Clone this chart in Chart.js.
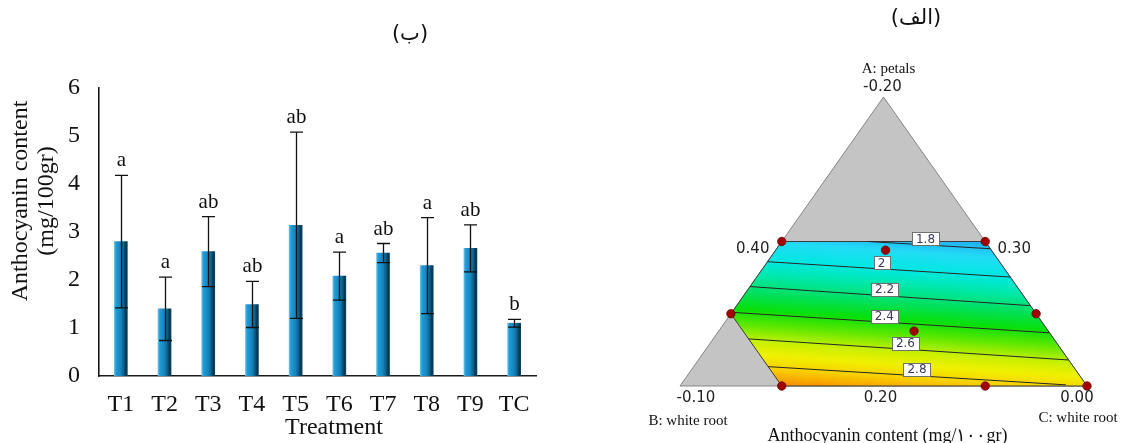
<!DOCTYPE html>
<html>
<head>
<meta charset="utf-8">
<script src="https://cdn.jsdelivr.net/npm/chart.js@4/dist/chart.umd.min.js"></script>
<style>
  html, body { margin: 0; padding: 0; background: #fff; }
  body { width: 1122px; height: 443px; position: relative; overflow: hidden; }
  canvas { position: absolute; top: 0; }
  #bars { left: 0; }
  #mix { left: 600px; }
</style>
</head>
<body>
<canvas id="bars" width="600" height="443"></canvas>
<canvas id="mix" width="522" height="443"></canvas>
<script>
// ---------- Panel (ب): anthocyanin content by treatment ----------
const treatments   = ['T1', 'T2', 'T3', 'T4', 'T5', 'T6', 'T7', 'T8', 'T9', 'TC'];
const anthocyanin  = [2.80, 1.40, 2.59, 1.49, 3.14, 2.08, 2.56, 2.30, 2.66, 1.10];
const stdError     = [1.38, 0.66, 0.73, 0.48, 1.94, 0.50, 0.20, 1.00, 0.49, 0.08];
const groupLetters = ['a', 'a', 'ab', 'ab', 'ab', 'a', 'ab', 'a', 'ab', 'b'];
const yTickValues  = [0, 1, 2, 3, 4, 5, 6];
const yTitleLines  = ['Anthocyanin content', '(mg/100gr)'];
const xTitle       = 'Treatment';
const panelTitles  = ['(ب)', '(الف)'];

// ---------- Panel (الف): mixture (ternary) response surface ----------
// mixture points are written as [A: petals, B: white root, C: white root]
const vertexNames    = ['A: petals', 'B: white root', 'C: white root'];
const vertexTicks    = ['-0.20', '-0.10', '0.00'];
const edgeTicks      = ['0.40', '0.30', '0.20'];
const mixTitle       = 'Anthocyanin content (mg/۱۰۰gr)';
const regionVertices = [[0.5, 0.5, 0], [0.5, 0, 0.5], [0, 0, 1], [0, 0.75, 0.25], [0.25, 0.75, 0]];
const designPoints   = [[0.5, 0.5, 0], [0.5, 0, 0.5], [0.47, 0.26, 0.27], [0.25, 0.75, 0], [0.25, 0, 0.75],
                        [0.19, 0.33, 0.48], [0, 0.75, 0.25], [0, 0.25, 0.75], [0, 0, 1]];
const contourLevels  = [1.8, 2.0, 2.2, 2.4, 2.6, 2.8];
const contourStart   = [[0.5, 0.288, 0.212], [0.43, 0.57, 0], [0.344, 0.656, 0], [0.255, 0.745, 0], [0.163, 0.75, 0.087], [0.067, 0.75, 0.183]];
const contourEnd     = [[0.475, 0, 0.525], [0.377, 0, 0.623], [0.278, 0, 0.722], [0.184, 0, 0.816], [0.09, 0, 0.91], [0.004, 0.05, 0.946]];
const colorScale     = [[1.70, '#1fa4f0'], [1.78, '#22bcf4'], [1.86, '#22dcf6'], [2.00, '#00e8e0'], [2.12, '#00e8a8'],
                        [2.25, '#00e060'], [2.38, '#08e008'], [2.50, '#60e800'], [2.62, '#c8f000'], [2.72, '#f0f000'],
                        [2.82, '#f8d000'], [2.90, '#f8a400'], [2.98, '#f07400']];

const SERIF = '"Liberation Serif", "Times New Roman", serif';
const SANS  = '"DejaVu Sans", "Liberation Sans", sans-serif';
const BAR_W = 13;

// cylinder-like shading across each bar
function barFill(context) {
  const chart = context.chart;
  const xs = chart.scales && chart.scales.x;
  if (!xs || context.dataIndex === undefined || !chart.chartArea) return '#1683bd';
  const cx = xs.getPixelForValue(context.dataIndex);
  if (!Number.isFinite(cx)) return '#1683bd';
  const g = chart.ctx.createLinearGradient(cx - BAR_W / 2, 0, cx + BAR_W / 2, 0);
  g.addColorStop(0.00, '#62bde6');
  g.addColorStop(0.14, '#1e9bd6');
  g.addColorStop(0.50, '#1683bd');
  g.addColorStop(0.72, '#0f5f8a');
  g.addColorStop(0.90, '#06334d');
  g.addColorStop(1.00, '#0d4866');
  return g;
}

const barDecor = {
  id: 'barDecor',
  afterDatasetsDraw(chart) {
    const { ctx, scales: { x, y } } = chart;
    ctx.save();
    ctx.strokeStyle = '#111';
    ctx.lineWidth = 1.3;
    ctx.fillStyle = '#111';
    ctx.font = '21px ' + SERIF;
    ctx.textAlign = 'center';
    ctx.textBaseline = 'alphabetic';
    anthocyanin.forEach((v, i) => {
      const cx = Math.round(x.getPixelForValue(i)) + 0.5;
      const top = y.getPixelForValue(v + stdError[i]);
      const bot = y.getPixelForValue(v - stdError[i]);
      ctx.beginPath();
      ctx.moveTo(cx, top); ctx.lineTo(cx, bot);
      ctx.moveTo(cx - 6.5, top); ctx.lineTo(cx + 6.5, top);
      ctx.moveTo(cx - 6.5, bot); ctx.lineTo(cx + 6.5, bot);
      ctx.stroke();
      ctx.fillText(groupLetters[i], cx, top - 9);
    });
    ctx.restore();
  },
  afterDraw(chart) {
    const { ctx } = chart;
    ctx.save();
    ctx.fillStyle = '#111';
    ctx.font = '24px ' + SERIF;
    ctx.textAlign = 'center';
    ctx.textBaseline = 'middle';
    // rotated y title, two lines
    [21, 47].forEach((xPos, k) => {
      ctx.save();
      ctx.translate(xPos, 201);
      ctx.rotate(-Math.PI / 2);
      ctx.fillText(yTitleLines[k], 0, 0);
      ctx.restore();
    });
    ctx.fillText(xTitle, 334, 428);
    ctx.font = '21px ' + SANS;
    ctx.fillText(panelTitles[0], 410, 35);
    ctx.restore();
  }
};

new Chart(document.getElementById('bars'), {
  type: 'bar',
  data: {
    labels: treatments,
    datasets: [{
      data: anthocyanin,
      backgroundColor: barFill,
      borderWidth: 0,
      barThickness: BAR_W
    }]
  },
  options: {
    responsive: false,
    animation: false,
    devicePixelRatio: 1,
    events: [],
    layout: { padding: { left: 0, top: 88, right: 64, bottom: 0 } },
    plugins: { legend: { display: false }, tooltip: { enabled: false } },
    scales: {
      x: {
        grid: { display: false, drawTicks: false },
        border: { display: true, color: '#1a1a1a', width: 1.6 },
        ticks: { color: '#111', font: { family: SERIF, size: 24 }, padding: 14, maxRotation: 0 },
        afterFit(s) { s.height = 67; }
      },
      y: {
        min: 0, max: 6,
        grid: { display: false, drawTicks: false },
        border: { display: true, color: '#1a1a1a', width: 1.6 },
        ticks: { color: '#111', font: { family: SERIF, size: 24 }, padding: 19 },
        afterBuildTicks(s) { s.ticks = yTickValues.map(v => ({ value: v })); },
        afterFit(s) { s.width = 99; }
      }
    }
  },
  plugins: [barDecor]
});

// ---------- ternary helpers ----------
const toPlane = m => ({ x: m[2] + m[0] / 2, y: m[0] });

// linear colour field oriented across the contour lines
function fieldGradient(chart) {
  const { ctx, chartArea, scales } = chart;
  if (!chartArea || !scales || !scales.x || !scales.y) return '#00e000';
  const px = m => { const p = toPlane(m); return { x: scales.x.getPixelForValue(p.x), y: scales.y.getPixelForValue(p.y) }; };
  const lines = contourLevels.map((lv, i) => [px(contourStart[i]), px(contourEnd[i])]);
  const [p, q] = lines[2];
  let dx = q.x - p.x, dy = q.y - p.y;
  const len = Math.hypot(dx, dy);
  if (!Number.isFinite(len) || len === 0) return '#00e000';
  dx /= len; dy /= len;
  const n = { x: -dy, y: dx };
  const s = lines.map(([a, b]) => n.x * (a.x + b.x) / 2 + n.y * (a.y + b.y) / 2);
  // least-squares fit: level = k0 + k1 * s
  const m = s.length;
  const ms = s.reduce((t, v) => t + v, 0) / m;
  const mv = contourLevels.reduce((t, v) => t + v, 0) / m;
  let num = 0, den = 0;
  s.forEach((sv, i) => { num += (sv - ms) * (contourLevels[i] - mv); den += (sv - ms) * (sv - ms); });
  const k1 = num / den, k0 = mv - k1 * ms;
  const ref = { x: (p.x + q.x) / 2, y: (p.y + q.y) / 2 };
  const sRef = n.x * ref.x + n.y * ref.y;
  const at = v => { const sv = (v - k0) / k1; return { x: ref.x + n.x * (sv - sRef), y: ref.y + n.y * (sv - sRef) }; };
  const vLo = colorScale[0][0], vHi = colorScale[colorScale.length - 1][0];
  const a = at(vLo), b = at(vHi);
  if (![a.x, a.y, b.x, b.y].every(Number.isFinite)) return '#00e000';
  const g = ctx.createLinearGradient(a.x, a.y, b.x, b.y);
  colorScale.forEach(([v, c]) => g.addColorStop((v - vLo) / (vHi - vLo), c));
  return g;
}

const mixDecor = {
  id: 'mixDecor',
  afterDatasetsDraw(chart) {
    const { ctx, scales: { x, y } } = chart;
    const px = m => { const p = toPlane(m); return { x: x.getPixelForValue(p.x), y: y.getPixelForValue(p.y) }; };
    ctx.save();
    ctx.font = '12px ' + SANS;
    ctx.textAlign = 'center';
    ctx.textBaseline = 'middle';
    const labelT = [0.47, 0.47, 0.48, 0.48, 0.49, 0.5];
    contourLevels.forEach((lv, i) => {
      const a = px(contourStart[i]), b = px(contourEnd[i]);
      const t = labelT[i];
      const cx = a.x + (b.x - a.x) * t;
      const cy = a.y + (b.y - a.y) * t - 6;
      const txt = String(lv);
      const w = Math.round(ctx.measureText(txt).width + 8);
      const bx = Math.round(cx - w / 2) + 0.5, by = Math.round(cy - 6.5) + 0.5;
      ctx.fillStyle = '#fff';
      ctx.fillRect(bx, by, w, 13);
      ctx.strokeStyle = '#6f6f6f';
      ctx.lineWidth = 1;
      ctx.strokeRect(bx, by, w, 13);
      ctx.fillStyle = '#3a3a5a';
      ctx.fillText(txt, cx, cy + 0.5);
    });
    ctx.restore();
  },
  afterDraw(chart) {
    const { ctx, scales: { x, y } } = chart;
    const px = m => { const p = toPlane(m); return { x: x.getPixelForValue(p.x), y: y.getPixelForValue(p.y) }; };
    const A = px([1, 0, 0]), B = px([0, 1, 0]), C = px([0, 0, 1]);
    const left = px(regionVertices[0]), right = px(regionVertices[1]);
    const baseMid = { x: (B.x + C.x) / 2, y: B.y };
    ctx.save();
    ctx.fillStyle = '#222';
    ctx.textAlign = 'center';
    ctx.textBaseline = 'middle';
    ctx.font = '15px ' + SANS;
    ctx.fillText(vertexTicks[0], A.x - 1, A.y - 10);
    ctx.fillText(vertexTicks[1], B.x + 16, B.y + 12);
    ctx.fillText(vertexTicks[2], C.x - 10, C.y + 12);
    ctx.fillText(edgeTicks[0], left.x - 29, left.y + 8);
    ctx.fillText(edgeTicks[1], right.x + 29, right.y + 8);
    ctx.fillText(edgeTicks[2], baseMid.x - 3, baseMid.y + 12);
    ctx.fillStyle = '#111';
    ctx.font = '15px ' + SERIF;
    ctx.fillText(vertexNames[0], A.x + 5, A.y - 28);
    ctx.fillText(vertexNames[1], B.x + 8, B.y + 35);
    ctx.fillText(vertexNames[2], C.x - 9, C.y + 32);
    ctx.font = '18px ' + SERIF;
    ctx.fillText(mixTitle, baseMid.x + 4, 436);
    ctx.font = '21px ' + SANS;
    ctx.fillText(panelTitles[1], 316, 19);
    ctx.restore();
  }
};

new Chart(document.getElementById('mix'), {
  type: 'scatter',
  data: {
    datasets: [
      {
        data: designPoints.map(toPlane),
        showLine: false,
        pointRadius: 4.2,
        pointBackgroundColor: '#a10000',
        pointBorderColor: '#6e0000',
        pointBorderWidth: 0.8,
        order: 0,
        clip: false
      },
      ...contourLevels.map((lv, i) => ({
        data: [toPlane(contourStart[i]), toPlane(contourEnd[i])],
        showLine: true,
        fill: false,
        borderColor: '#262626',
        borderWidth: 1,
        pointRadius: 0,
        order: 1,
        clip: false
      })),
      {
        data: [...regionVertices, regionVertices[0]].map(toPlane),
        showLine: true,
        fill: 'shape',
        backgroundColor: ctx => fieldGradient(ctx.chart),
        borderColor: '#3b3b3b',
        borderWidth: 1,
        pointRadius: 0,
        order: 2,
        clip: false
      },
      {
        data: [[1, 0, 0], [0, 1, 0], [0, 0, 1], [1, 0, 0]].map(toPlane),
        showLine: true,
        fill: 'shape',
        backgroundColor: '#c4c4c4',
        borderColor: '#858585',
        borderWidth: 1,
        pointRadius: 0,
        order: 3,
        clip: false
      }
    ]
  },
  options: {
    responsive: false,
    animation: false,
    devicePixelRatio: 1,
    events: [],
    layout: { padding: { left: 80, right: 35, top: 97, bottom: 57 } },
    plugins: { legend: { display: false }, tooltip: { enabled: false } },
    scales: {
      x: { type: 'linear', min: 0, max: 1, display: false },
      y: { type: 'linear', min: 0, max: 1, display: false }
    }
  },
  plugins: [mixDecor]
});
</script>
</body>
</html>
